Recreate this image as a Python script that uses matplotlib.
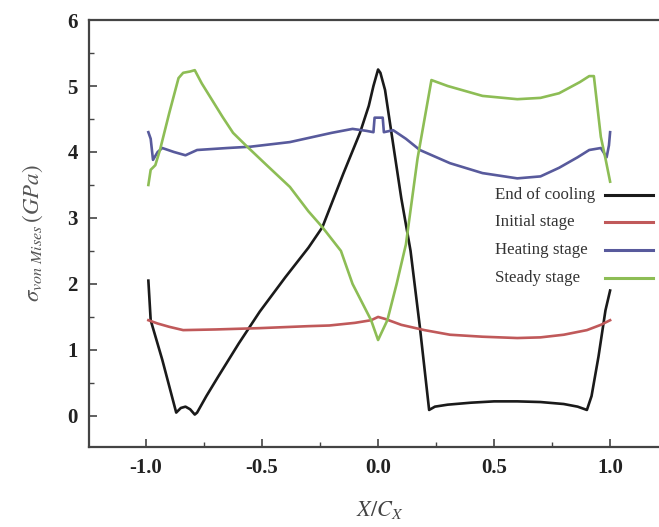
import matplotlib

matplotlib.use("Agg")
import matplotlib.pyplot as plt
from matplotlib.lines import Line2D
from matplotlib.ticker import MultipleLocator

# values
series_labels = ["End of cooling", "Initial stage", "Heating stage", "Steady stage"]
series_colors = ["#1a1a1a", "#c0595a", "#585a9c", "#8dbd55"]

cooling_x = [-0.99, -0.98, -0.93, -0.87, -0.85, -0.83, -0.81, -0.79, -0.78, -0.74, -0.69,
             -0.6, -0.51, -0.4, -0.3, -0.24, -0.15, -0.078, -0.04, -0.02, 0.0, 0.01, 0.03,
             0.07, 0.1, 0.14, 0.18, 0.22, 0.245, 0.3, 0.4, 0.5, 0.6, 0.7, 0.8, 0.86, 0.9,
             0.92, 0.95, 0.98, 1.0]
cooling_y = [2.05, 1.45, 0.85, 0.05, 0.12, 0.14, 0.1, 0.02, 0.05, 0.3, 0.59,
             1.1, 1.58, 2.1, 2.55, 2.86, 3.67, 4.29, 4.7, 5.0, 5.25, 5.2, 4.94,
             4.0, 3.3, 2.5, 1.35, 0.09, 0.14, 0.17, 0.2, 0.22, 0.22, 0.21, 0.18, 0.14, 0.09,
             0.3, 0.9, 1.6, 1.9]

initial_x = [-0.99, -0.95, -0.9, -0.84, -0.7, -0.51, -0.3, -0.21, -0.1, -0.03, 0.0, 0.03,
             0.1, 0.2, 0.31, 0.45, 0.6, 0.7, 0.8, 0.9, 0.96, 1.0]
initial_y = [1.45, 1.40, 1.35, 1.30, 1.31, 1.33, 1.36, 1.37, 1.41, 1.45, 1.5, 1.47,
             1.38, 1.3, 1.23, 1.2, 1.18, 1.19, 1.23, 1.3, 1.38, 1.45]

heating_x = [-0.99, -0.98, -0.97, -0.95, -0.93, -0.88, -0.83, -0.78, -0.65, -0.55, -0.38,
             -0.2, -0.11, -0.05, -0.02, -0.015, 0.02, 0.025, 0.065, 0.12, 0.18, 0.31, 0.45,
             0.6, 0.7, 0.78, 0.86, 0.91, 0.96, 0.985, 0.995, 1.0]
heating_y = [4.3, 4.2, 3.88, 4.0, 4.06, 4.0, 3.95, 4.03, 4.06, 4.08, 4.15,
             4.29, 4.35, 4.32, 4.30, 4.52, 4.52, 4.30, 4.33, 4.2, 4.03, 3.83, 3.68,
             3.6, 3.63, 3.76, 3.92, 4.03, 4.06, 3.92, 4.1, 4.3]

steady_x = [-0.99, -0.98, -0.96, -0.94, -0.9, -0.86, -0.84, -0.81, -0.79, -0.76, -0.67,
            -0.625, -0.57, -0.48, -0.38, -0.3, -0.24, -0.16, -0.11, -0.03, 0.0, 0.04, 0.08,
            0.12, 0.17, 0.23, 0.3, 0.45, 0.6, 0.7, 0.78, 0.87, 0.91, 0.93, 0.96, 0.98, 1.0]
steady_y = [3.5, 3.73, 3.8, 4.03, 4.59, 5.12, 5.2, 5.22, 5.24, 5.04, 4.53,
            4.29, 4.1, 3.8, 3.47, 3.1, 2.86, 2.5, 2.0, 1.45, 1.15, 1.45, 2.0,
            2.6, 3.9, 5.09, 5.0, 4.85, 4.8, 4.82, 4.89, 5.06, 5.15, 5.15, 4.23, 3.9, 3.55]

x_ticks = [-1.0, -0.5, 0.0, 0.5, 1.0]
y_ticks = [0, 1, 2, 3, 4, 5, 6]

plt.rcParams["mathtext.fontset"] = "stix"

W, H = 659, 527
fig = plt.figure(figsize=(W / 100, H / 100), dpi=100)
# right spine falls just outside the canvas, as in the cropped original
ax = fig.add_axes([0.135, 0.152, 0.882, 0.810])

all_x = [cooling_x, initial_x, heating_x, steady_x]
all_y = [cooling_y, initial_y, heating_y, steady_y]
for xs, ys, label, color in zip(all_x, all_y, series_labels, series_colors):
    ax.plot(xs, ys, color=color, linewidth=1.9, label=label, solid_joinstyle="round")

ax.set_xlim(-1.246, 1.259)
ax.set_ylim(-0.47, 6.0)
ax.set_xticks(x_ticks)
ax.set_xticklabels([f"{v:.1f}" for v in x_ticks])
ax.set_yticks(y_ticks)
ax.set_yticklabels([str(v) for v in y_ticks])
ax.xaxis.set_minor_locator(MultipleLocator(0.25))
ax.yaxis.set_minor_locator(MultipleLocator(0.5))

ax.tick_params(which="both", direction="in", top=False, right=False, color="#444444")
ax.tick_params(which="major", length=6, width=1.2, pad=8)
ax.tick_params(which="minor", length=3.5, width=1.0)
for lbl in ax.get_xticklabels() + ax.get_yticklabels():
    lbl.set_fontfamily("Liberation Serif")
    lbl.set_fontweight("bold")
    lbl.set_fontsize(15)
    lbl.set_color("#222222")

for spine in ax.spines.values():
    spine.set_color("#444444")
    spine.set_linewidth(1.6)

ax.set_xlabel(r"$X/C_X$", fontsize=16, color="#444444", labelpad=15)
ax.set_ylabel(r"$\sigma_{von\ Mises}\,(GPa)$", fontsize=16.5, color="#555555", labelpad=16)

# legend: left-aligned labels, line samples on the right
legend_rows_y = [195, 222, 250, 278]
for row_y, label, color in zip(legend_rows_y, series_labels, series_colors):
    fy = (H - row_y) / H
    fig.text(495 / W, fy, label, ha="left", va="center", color="#333333",
             family="Liberation Serif", fontsize=12.2)
    fig.add_artist(Line2D([605 / W, 653 / W], [fy, fy], color=color, linewidth=2.2,
                          transform=fig.transFigure))

fig.savefig("out.png", dpi=100)
